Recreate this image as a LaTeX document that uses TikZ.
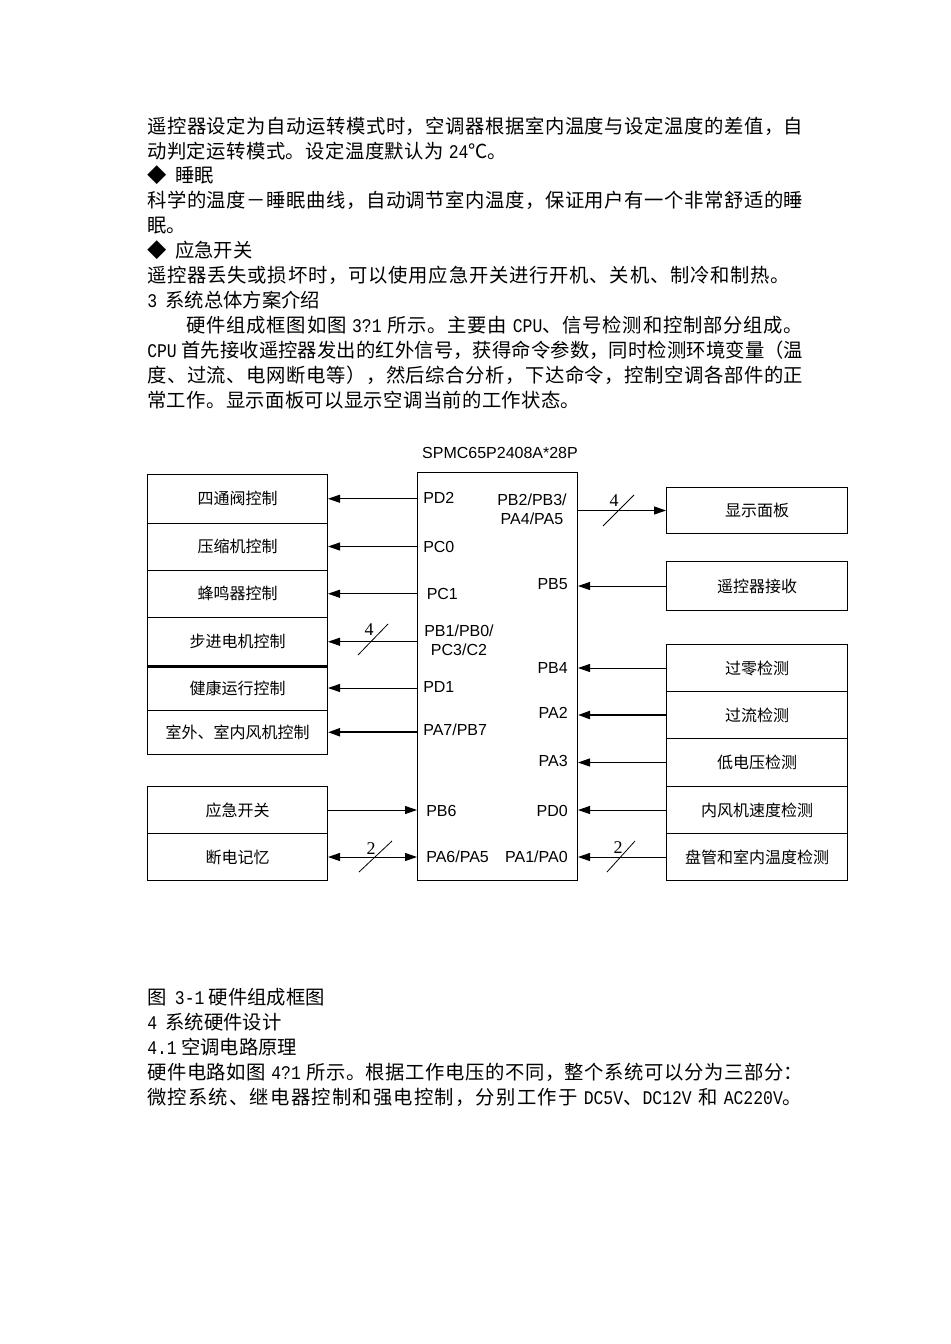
\documentclass[tikz,border=0pt]{standalone}
\usepackage{fontspec}
\usepackage{graphicx}
\usetikzlibrary{arrows.meta}
\setmainfont{Noto Sans CJK SC}
\newfontfamily\cjkf{Noto Sans CJK SC}
\newfontfamily\latmono{Liberation Mono}
\newfontfamily\arialf{Liberation Sans}
\newfontfamily\serf{Liberation Serif}
\newcommand\lat[1]{\scalebox{0.85}[1]{\latmono #1}}
\newcommand\bodyf{\fontsize{14.5pt}{17pt}\selectfont}
\newcommand\boxf{\fontsize{12pt}{14pt}\selectfont\cjkf}
\newcommand\pinf{\fontsize{12pt}{13.5pt}\selectfont\arialf}
\newcommand\jl[2]{\makebox[#1][s]{#2}}
% inter-character glue for CJK so lines can be justified
\newcount\mycnt
\chardef\mycjkclass=10
\mycnt="3000
\loop \XeTeXcharclass\mycnt=\mycjkclass \advance\mycnt by 1 \ifnum\mycnt<"A000 \repeat
\mycnt="FF00
\loop \XeTeXcharclass\mycnt=\mycjkclass \advance\mycnt by 1 \ifnum\mycnt<"FFF0 \repeat
\XeTeXinterchartoks\mycjkclass\mycjkclass={\hskip 0pt plus 1pt\relax}
\XeTeXinterchartokenstate=1
\tikzset{
  txt/.style={anchor=west, inner sep=0pt, font=\bodyf, text height=12.76pt, text depth=1.74pt},
  box/.style={draw, line width=0.75pt, minimum width=135pt, inner sep=0pt, anchor=north west, font=\boxf},
  cpubox/.style={draw, line width=0.75pt, minimum width=120pt, minimum height=306pt, inner sep=0pt, anchor=north west},
  pinl/.style={inner sep=0pt, font=\pinf, anchor=west},
  pinr/.style={inner sep=0pt, font=\pinf, anchor=east},
  tip/.tip={Triangle[length=9pt,width=6pt]},
  arr/.style={line width=0.75pt, -tip},
  arrtwo/.style={line width=0.75pt, tip-tip},
  thickline/.style={line width=1.6pt},
  slash/.style={line width=0.6pt},
  buslabel/.style={inner sep=0pt, font=\fontsize{13.5pt}{14pt}\selectfont\serf}
}
\begin{document}
\begin{tikzpicture}[x=0.75pt,y=-0.75pt]
\useasboundingbox (0,0) rectangle (950,1344);
\fill[white] (0,0) rectangle (950,1344);

% ---------- top text ----------
\node[txt] (t1) at (147,126) {\jl{492pt}{遥控器设定为自动运转模式时，空调器根据室内温度与设定温度的差值，自}};
\node[txt] (t2) at (147,151) {\jl{270pt}{动判定运转模式。设定温度默认为 \lat{24}℃。}};
\node[txt] (t3a) at (147,175) {◆};
\node[txt] (t3b) at (175,175) {睡眠};
\node[txt] (t4) at (147,200) {\jl{492pt}{科学的温度－睡眠曲线，自动调节室内温度，保证用户有一个非常舒适的睡}};
\node[txt] (t5) at (147,225) {眠。};
\node[txt] (t6a) at (147,250) {◆};
\node[txt] (t6b) at (175,250) {应急开关};
\node[txt] (t7) at (147,275) {\jl{482.25pt}{遥控器丢失或损坏时，可以使用应急开关进行开机、关机、制冷和制热。}};
\node[txt] (t8) at (147,300) {\lat{3}\hspace{3pt} 系统总体方案介绍};
\node[txt] (t9) at (186,325) {\jl{462.75pt}{硬件组成框图如图 \lat{3?1} 所示。主要由 \lat{CPU}、信号检测和控制部分组成。}};
\node[txt] (t10) at (147,350) {\jl{492pt}{\lat{CPU} 首先接收遥控器发出的红外信号，获得命令参数，同时检测环境变量（温}};
\node[txt] (t11) at (147,375) {\jl{492pt}{度、过流、电网断电等），然后综合分析，下达命令，控制空调各部件的正}};
\node[txt] (t12) at (147,400) {\jl{324.75pt}{常工作。显示面板可以显示空调当前的工作状态。}};

% ---------- diagram ----------
\node[inner sep=0pt, font=\pinf] (title) at (500,453) {SPMC65P2408A*28P};
\node[cpubox] (cpu) at (417,472) {};

% left boxes
\node[box, minimum height=36.375pt] (L1) at (147,474) {四通阀控制};
\node[box, minimum height=35.25pt] (L2) at (147,522.5) {压缩机控制};
\node[box, minimum height=35.625pt] (L3) at (147,569.5) {蜂鸣器控制};
\node[box, minimum height=36.375pt] (L4) at (147,617) {步进电机控制};
\node[box, minimum height=33pt] (L5) at (147,665.5) {健康运行控制};
\node[box, minimum height=33.375pt] (L6) at (147,709.5) {室外、室内风机控制};
\draw[thickline] (L4.south west) -- (L4.south east);
\node[box, minimum height=35.25pt] (L7) at (147,786) {应急开关};
\node[box, minimum height=35.25pt] (L8) at (147,833) {断电记忆};

% right boxes
\node[box, minimum width=135.75pt, minimum height=34.5pt] (R1) at (666,487) {显示面板};
\node[box, minimum width=135.75pt, minimum height=36.75pt] (R2) at (666,561) {遥控器接收};
\node[box, minimum width=135.75pt, minimum height=35.25pt] (R3) at (666,644) {过零检测};
\node[box, minimum width=135.75pt, minimum height=35.25pt] (R4) at (666,691) {过流检测};
\node[box, minimum width=135.75pt, minimum height=36pt] (R5) at (666,738) {低电压检测};
\node[box, minimum width=135.75pt, minimum height=35.25pt] (R6) at (666,786) {内风机速度检测};
\node[box, minimum width=135.75pt, minimum height=35.25pt] (R7) at (666,833) {盘管和室内温度检测};

% pin labels
\node[pinl] (pd2) at (423,498) {PD2};
\node[pinl] (pc0) at (423,546.7) {PC0};
\node[pinl] (pc1) at (426.5,593.5) {PC1};
\node[inner sep=0pt, font=\pinf, align=center] (pb1) at (459,640) {PB1/PB0/\\[0.5pt]PC3/C2};
\node[pinl] (pd1) at (423,687) {PD1};
\node[pinl] (pa7) at (423,729.5) {PA7/PB7};
\node[pinl] (pb6) at (426,810.7) {PB6};
\node[pinl] (pa6) at (426,857) {PA6/PA5};
\node[inner sep=0pt, font=\pinf, align=center] (pb2) at (532,509) {PB2/PB3/\\[0.5pt]PA4/PA5};
\node[pinr] (pb5) at (568,584) {PB5};
\node[pinr] (pb4) at (568,668) {PB4};
\node[pinr] (pa2) at (568,713) {PA2};
\node[pinr] (pa3) at (568,761) {PA3};
\node[pinr] (pd0) at (568,810.7) {PD0};
\node[pinr] (pa1) at (568,857) {PA1/PA0};

% connectors left
\draw[arr] (L1.east -| cpu.west) -- (L1.east);
\draw[arr] (L2.east -| cpu.west) -- (L2.east);
\draw[arr] (L3.east -| cpu.west) -- (L3.east);
\draw[arr] (L4.east -| cpu.west) -- (L4.east);
\draw[arr] (L5.east -| cpu.west) -- (L5.east);
\draw[arr, thickline] (L6.east -| cpu.west) -- (L6.east);
\draw[arr] (L7.east) -- (L7.east -| cpu.west);
\draw[arrtwo] (L8.east) -- (L8.east -| cpu.west);

% connectors right
\draw[arr] (R1.west -| cpu.east) -- (R1.west);
\draw[arr] (R2.west) -- (R2.west -| cpu.east);
\draw[arr] (R3.west) -- (R3.west -| cpu.east);
\draw[arr, thickline] (R4.west) -- (R4.west -| cpu.east);
\draw[arr] (R5.west) -- (R5.west -| cpu.east);
\draw[arr] (R6.west) -- (R6.west -| cpu.east);
\draw[arr] (R7.west) -- (R7.west -| cpu.east);

% bus slashes
\coordinate (s1) at (371,641);
\coordinate (s2) at (375,857);
\coordinate (s3) at (618,510);
\coordinate (s4) at (620,857);
\draw[slash] ([shift={(-13,14)}]s1) -- ([shift={(17,-17)}]s1);
\draw[slash] ([shift={(-16,15)}]s2) -- ([shift={(17,-16)}]s2);
\draw[slash] ([shift={(-15,16)}]s3) -- ([shift={(16,-15)}]s3);
\draw[slash] ([shift={(-13,15)}]s4) -- ([shift={(15,-16)}]s4);
\node[buslabel] (n1) at ([shift={(-2,-11)}]s1) {4};
\node[buslabel] (n2) at ([shift={(-4,-8)}]s2) {2};
\node[buslabel] (n3) at ([shift={(-4,-9)}]s3) {4};
\node[buslabel] (n4) at ([shift={(-2,-9)}]s4) {2};

% ---------- bottom text ----------
\node[txt] (c1) at (147,997) {图\hspace{3pt} \lat{3-1} 硬件组成框图};
\node[txt] (c2) at (147,1022) {\lat{4}\hspace{3pt} 系统硬件设计};
\node[txt] (c3) at (147,1047) {\lat{4.1} 空调电路原理};
\node[txt] (c4) at (147,1072) {\jl{492pt}{硬件电路如图 \lat{4?1} 所示。根据工作电压的不同，整个系统可以分为三部分：}};
\node[txt] (c5) at (147,1097) {\jl{491.25pt}{微控系统、继电器控制和强电控制，分别工作于 \lat{DC5V}、\lat{DC12V} 和 \lat{AC220V}。}};
\end{tikzpicture}
\end{document}
